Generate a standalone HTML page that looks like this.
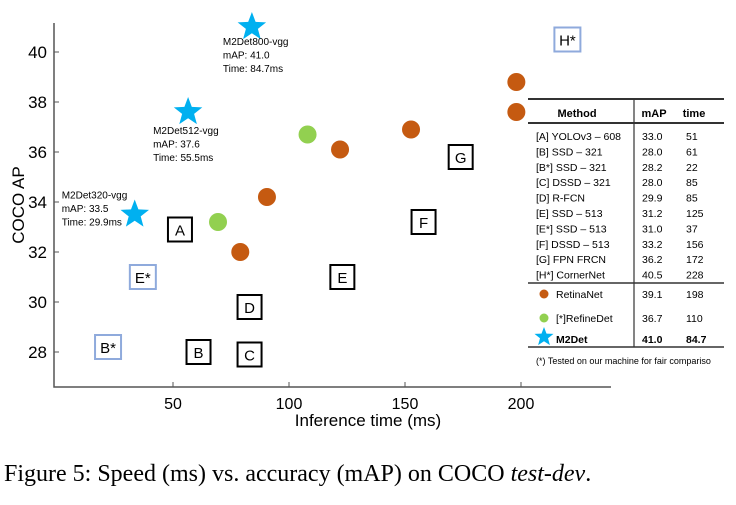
<!DOCTYPE html>
<html><head><meta charset="utf-8"><style>
body{margin:0;background:#fff;}
svg{display:block;font-family:"Liberation Sans",sans-serif;}
</style></head><body>
<svg id="chart" width="736" height="505" viewBox="0 0 736 505">
<g id="axes"></g>
<g id="marks"></g>
<g id="table"></g>
<text x="4" y="481" font-family="Liberation Serif,serif" font-size="24" fill="#000">Figure 5: Speed (ms) vs. accuracy (mAP) on COCO <tspan font-style="italic">test-dev</tspan>.</text>
</svg>
<script>
const xTicks=[50,100,150,200];
const yTicks=[28,30,32,34,36,38,40];
const boxLabels=["A","B","B*","C","D","E","E*","F","G","H*"];
const boxTimes=[53,61,22,83,83,123,37,158,174,220];
const boxAPs=[32.9,28.0,28.2,27.9,29.8,31.0,31.0,33.2,35.8,40.5];
const retinaTimes=[79,90.5,122,152.6,198,198];
const retinaAPs=[32.0,34.2,36.1,36.9,37.6,38.8];
const refineTimes=[69.4,108];
const refineAPs=[33.2,36.7];
const m2Names=["M2Det320-vgg","M2Det512-vgg","M2Det800-vgg"];
const m2Times=[33.5,56.5,84];
const m2APs=[33.5,37.6,41.0];
const m2Labels=["Time: 29.9ms","Time: 55.5ms","Time: 84.7ms"];
const tableMethods=["[A] YOLOv3 – 608","[B] SSD – 321","[B*] SSD – 321","[C] DSSD – 321","[D] R-FCN","[E] SSD – 513","[E*] SSD – 513","[F] DSSD – 513","[G] FPN FRCN","[H*] CornerNet"];
const tableMAP=["33.0","28.0","28.2","28.0","29.9","31.2","31.0","33.2","36.2","40.5"];
const tableTime=["51","61","22","85","85","125","37","156","172","228"];

const NS="http://www.w3.org/2000/svg";
const X=v=>57+v*2.32;
const Y=v=>52+(40-v)*25;
function mk(parent,tag,attrs,text){const e=document.createElementNS(NS,tag);for(const k in attrs)e.setAttribute(k,attrs[k]);if(text!==undefined)e.textContent=text;parent.appendChild(e);return e;}
const axes=document.getElementById('axes'),marks=document.getElementById('marks'),tbl=document.getElementById('table');
const BASE=387;
let e=mk(axes,'path',{d:`M54,23 V${BASE} H611`,fill:'none',stroke:'#555','stroke-width':1.5});

xTicks.forEach(t=>{
 let l=mk(axes,'line',{x1:X(t),x2:X(t),y1:BASE,y2:BASE-5,stroke:'#555'});
 
 let tx=mk(axes,'text',{x:X(t),y:BASE+22,'text-anchor':'middle','font-size':16},t);
 
});
yTicks.forEach(t=>{
 let l=mk(axes,'line',{x1:54,x2:59,y1:Y(t),y2:Y(t),stroke:'#555'});
 
 let tx=mk(axes,'text',{x:47,y:Y(t)+6,'text-anchor':'end','font-size':17},t);
 
});
e=mk(axes,'text',{x:368,y:426,'text-anchor':'middle','font-size':17},'Inference time (ms)');

e=mk(axes,'text',{x:0,y:0,'text-anchor':'middle','font-size':17,transform:'translate(24,205) rotate(-90)'},'COCO AP');


boxLabels.forEach((lb,i)=>{
 const star=lb.includes('*');const cx=X(boxTimes[i]),cy=Y(boxAPs[i]);const w=star?26:24;
 let r=mk(marks,'rect',{x:cx-w/2,y:cy-12,width:w,height:24,fill:'#fff',stroke:star?'#8faadc':'#000','stroke-width':star?2:2});
 
 let t=mk(marks,'text',{x:cx,y:cy+6,'text-anchor':'middle','font-size':15},lb);
 
});
retinaTimes.forEach((v,i)=>{let c=mk(marks,'circle',{cx:X(v),cy:Y(retinaAPs[i]),r:9,fill:'#c55a11'});
 });
refineTimes.forEach((v,i)=>{let c=mk(marks,'circle',{cx:X(v),cy:Y(refineAPs[i]),r:9,fill:'#92d050'});
 });
function starPath(cx,cy,R){const r=R*0.42;let p='';for(let k=0;k<10;k++){const a=-Math.PI/2+k*Math.PI/5;const rr=k%2?r:R;p+=(k?'L':'M')+(cx+rr*Math.cos(a)).toFixed(1)+','+(cy+rr*Math.sin(a)).toFixed(1);}return p+'Z';}
const annOff=[[-73,-16],[-35,22],[-29,18]];
m2Times.forEach((v,i)=>{
 const cx=X(v),cy=Y(m2APs[i]);
 let s=mk(marks,'path',{d:starPath(cx,cy,15),fill:'#00b0f0'});
 
 const ax=cx+annOff[i][0],ay=cy+annOff[i][1];
 [m2Names[i],'mAP: '+m2APs[i].toFixed(1),m2Labels[i]].forEach((tx,j)=>{
  let t=mk(marks,'text',{x:ax,y:ay+j*13.5,'font-size':10},tx);
  
 });
});
// table
const L=528,Rr=724,DV=634;
[[99,2],[123,2],[283,1.5],[347,1.5]].forEach(([y,w])=>{let l=mk(tbl,'line',{x1:L,x2:Rr,y1:y,y2:y,stroke:'#333','stroke-width':w});
 });
e=mk(tbl,'line',{x1:DV,x2:DV,y1:99,y2:347,stroke:'#333','stroke-width':1.2});

[['Method',577,'middle'],['mAP',654,'middle'],['time',694,'middle']].forEach(([t,x,a])=>{
 let h=mk(tbl,'text',{x:x,y:117,'font-size':11,'font-weight':'bold','text-anchor':a},t);
 });
tableMethods.forEach((m,i)=>{const y=140+i*15.4;
 let a=mk(tbl,'text',{x:536,y:y,'font-size':10.5},m);
 let b=mk(tbl,'text',{x:642,y:y,'font-size':10.5},tableMAP[i]);
 let c=mk(tbl,'text',{x:686,y:y,'font-size':10.5},tableTime[i]);
});
const extra=[['RetinaNet','39.1','198',298,'c','#c55a11'],['[*]RefineDet','36.7','110',322,'c','#92d050'],['M2Det','41.0','84.7',343,'s','#00b0f0']];
extra.forEach(([n,m,t,y,kind,col])=>{
 let k=kind==='c'?mk(tbl,'circle',{cx:544,cy:y-4,r:4.5,fill:col}):mk(tbl,'path',{d:starPath(544,y-6,10),fill:col});
 
 const bw=kind==='s'?'bold':'normal';
 let a=mk(tbl,'text',{x:556,y:y,'font-size':10.5,'font-weight':bw},n);
 let b=mk(tbl,'text',{x:642,y:y,'font-size':10.5,'font-weight':bw},m);
 let c=mk(tbl,'text',{x:686,y:y,'font-size':10.5,'font-weight':bw},t);
});
e=mk(tbl,'text',{x:536,y:364,'font-size':9},'(*) Tested on our machine for fair compariso');

</script>
</body></html>
